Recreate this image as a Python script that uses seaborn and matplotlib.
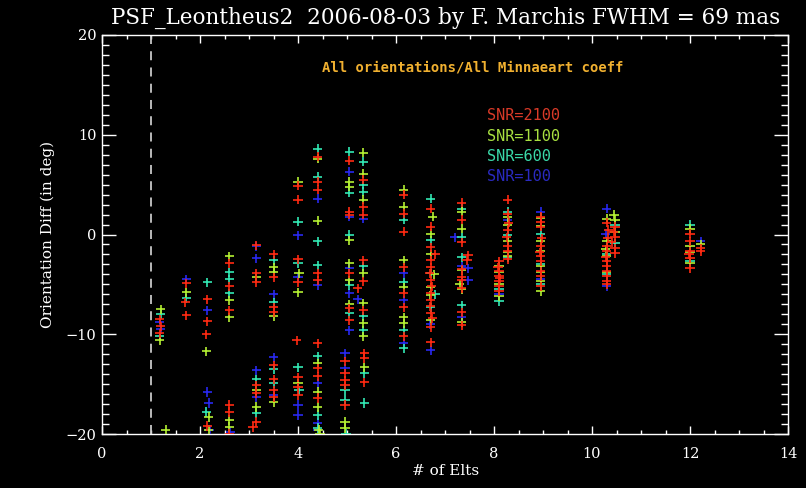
import matplotlib
matplotlib.use("Agg")
import matplotlib.pyplot as plt
from matplotlib.ticker import MultipleLocator
import seaborn as sns
import pandas as pd

# ---------------- data ----------------
snr_labels = ["SNR=2100", "SNR=1100", "SNR=600", "SNR=100"]

x_2100 = [1.18, 1.20, 1.18, 1.72, 1.70, 1.72, 2.15, 2.15, 2.13, 2.15,
          2.60, 2.60, 2.60, 2.60, 2.60, 2.60,
          3.15, 3.15, 3.15, 3.15, 3.15, 3.15, 3.08,
          3.50, 3.50, 3.50, 3.50, 3.50, 3.50, 3.50, 3.50,
          4.00, 4.00, 4.00, 4.00, 3.97, 4.00, 4.00, 4.00,
          4.40, 4.40, 4.40, 4.40, 4.40, 4.40, 4.40, 4.40, 4.40,
          5.05, 5.05, 5.05, 5.05, 5.05, 5.05, 4.96, 4.96, 4.96, 4.96, 4.96,
          5.33, 5.33, 5.33, 5.33, 5.33, 5.33, 5.35, 5.35, 5.35, 5.22,
          6.16, 6.16, 6.16, 6.16, 6.16, 6.16, 6.16,
          6.71, 6.71, 6.71, 6.71, 6.71, 6.71, 6.71, 6.71, 6.71, 6.71, 6.71, 6.80,
          6.69, 6.73, 6.70, 6.74,
          7.34, 7.34, 7.34, 7.34, 7.34, 7.34, 7.34, 7.34, 7.34, 7.47, 7.45,
          8.10, 8.10, 8.10, 8.10, 8.10, 8.10, 8.08, 8.12,
          8.28, 8.28, 8.28, 8.28, 8.28, 8.28, 8.30, 8.26,
          8.95, 8.95, 8.95, 8.95, 8.95, 8.95, 8.95, 8.95, 8.95, 8.97, 8.93,
          10.30, 10.30, 10.30, 10.30, 10.30, 10.30, 10.30, 10.30, 10.30,
          10.32, 10.28, 10.33,
          10.47, 10.47, 10.47, 10.47, 10.40, 10.44,
          12.00, 12.00, 12.00, 12.00, 12.00, 12.22, 12.22, 11.98]
y_2100 = [-8.5, -9.2, -9.9, -4.9, -6.8, -8.1, -6.5, -8.7, -10.0, -19.2,
          -2.9, -5.2, -7.6, -17.1, -17.8, -20.0,
          -1.1, -3.9, -4.8, -15.1, -15.9, -18.8, -19.3,
          -2.0, -4.3, -7.3, -7.8, -13.1, -14.5, -15.6, -16.3,
          4.9, 3.5, -2.5, -4.8, -10.6, -14.3, -15.3, -16.1,
          7.8, 5.3, 4.5, -3.9, -4.6, -10.9, -13.4, -14.2, -16.4,
          7.4, 2.3, 2.0, -3.9, -7.4, -8.6, -12.7, -13.9, -14.6, -15.1, -17.1,
          5.5, 2.8, 2.0, -2.6, -4.7, -7.6, -11.9, -12.4, -14.8, -5.4,
          4.0, 2.1, 0.3, -3.3, -5.9, -7.3, -10.2,
          2.6, 0.8, -1.3, -2.6, -3.3, -4.6, -5.9, -6.6, -7.9, -9.3, -10.8, -2.0,
          -3.9, -5.2, -7.2, -8.4,
          3.2, 1.5, -0.8, -3.5, -4.3, -4.6, -5.4, -7.8, -9.1, -2.1, -2.6,
          -2.7, -3.7, -4.2, -4.7, -5.2, -5.7, -3.3, -4.4,
          3.5, 2.1, 0.5, -1.2, -1.7, -2.5, 1.2, -0.3,
          1.8, 1.3, 0.8, -1.2, -2.2, -2.7, -3.7, -4.2, -5.2, -0.4, -1.8,
          1.2, -1.2, -1.7, -2.7, -3.2, -3.7, -4.2, -4.7, -5.0,
          -0.4, -2.3, 0.5,
          0.8, -0.3, -1.4, -1.9, -0.8, 0.3,
          0.1, -0.7, -1.7, -2.4, -3.4, -1.4, -1.7, -2.0]

x_1100 = [1.20, 1.18, 1.30, 1.72, 2.13, 2.18, 2.18,
          2.60, 2.60, 2.60, 2.60, 2.60,
          3.15, 3.15, 3.15, 3.50, 3.50, 3.50, 3.50,
          4.00, 4.02, 4.00, 4.00,
          4.40, 4.40, 4.40, 4.40, 4.40, 4.42, 4.45,
          5.05, 5.05, 5.05, 5.05, 5.05, 5.05, 4.96, 4.96,
          5.33, 5.33, 5.33, 5.33, 5.33, 5.33, 5.33, 5.35,
          6.16, 6.16, 6.16, 6.16, 6.16, 6.16,
          6.71, 6.71, 6.71, 6.71, 6.78, 6.75, 6.70,
          7.34, 7.34, 7.34, 7.34, 7.34, 7.30,
          8.10, 8.10, 8.10, 8.10,
          8.28, 8.28, 8.28, 8.28, 8.28,
          8.95, 8.95, 8.95, 8.95, 8.95, 8.95, 8.95, 8.95,
          10.30, 10.30, 10.30, 10.30, 10.47, 10.47, 10.45, 10.28,
          12.00, 12.00, 12.00, 12.00, 12.22]
y_1100 = [-7.5, -10.6, -19.6, -5.8, -11.7, -18.3, -19.6,
          -2.2, -6.6, -8.3, -18.6, -19.3,
          -4.3, -15.6, -17.3, -3.3, -3.8, -8.2, -16.8,
          5.3, -3.9, -5.8, -14.9,
          7.6, 1.4, -12.9, -15.8, -17.3, -19.6, -20.0,
          5.3, 4.8, -0.6, -2.9, -4.6, -7.0, -18.8, -19.4,
          8.2, 6.1, 3.5, -3.9, -6.9, -8.9, -10.2, -13.3,
          4.5, 2.8, -2.6, -5.3, -8.3, -8.9,
          0.1, -2.0, -5.3, -8.6, -4.0, 1.8, -6.1,
          2.3, 0.6, -3.6, -5.5, -8.8, -5.0,
          -3.2, -3.8, -5.0, -6.2,
          1.8, 1.0, -0.7, -1.8, -2.2,
          1.7, 0.9, -0.7, -1.7, -3.2, -3.8, -4.7, -5.7,
          1.6, -0.7, -2.2, -3.8, 1.5, 0.3, 2.0, -1.5,
          0.6, -1.2, -1.8, -2.9, -1.0]

x_600 = [1.20, 1.18, 1.72, 2.15, 2.13,
         2.60, 2.60, 2.60, 3.15, 3.15,
         3.50, 3.50, 3.50, 3.50,
         4.00, 4.00, 4.00, 4.02,
         4.40, 4.40, 4.40, 4.40, 4.40, 4.40, 4.40,
         5.05, 5.05, 5.05, 5.05, 5.05, 4.96, 4.96, 4.98,
         5.33, 5.33, 5.33, 5.33, 5.33, 5.33, 5.35, 5.35,
         6.16, 6.16, 6.16, 6.16,
         6.71, 6.71, 6.71, 6.71, 6.80,
         7.34, 7.34, 7.34, 7.34,
         8.10, 8.10, 8.28, 8.28, 8.28,
         8.95, 8.95, 8.95,
         10.30, 10.30, 10.47, 10.47,
         12.00, 12.00]
y_600 = [-8.0, -10.2, -6.4, -4.8, -17.8,
         -3.8, -4.5, -5.9, -14.5, -17.9,
         -2.6, -6.8, -13.5, -14.9,
         1.3, -2.9, -13.3, -15.6,
         8.6, 5.8, -0.7, -3.1, -12.2, -18.1, -19.4,
         8.3, 4.2, 0.0, -5.1, -7.9, -15.6, -16.6, -20.0,
         7.3, 5.0, 4.3, -3.2, -8.2, -9.6, -13.9, -16.9,
         1.5, -4.8, -9.6, -11.4,
         3.6, -0.6, -3.9, -7.3, -6.0,
         2.6, -0.3, -2.3, -7.1,
         -5.5, -6.7, 2.3, 0.0, -2.3,
         0.1, -3.0, -5.0,
         -2.0, -4.0, -0.9, 1.0,
         1.0, -2.7]

x_100 = [1.18, 1.20, 1.72, 2.15, 2.15, 2.18, 2.20, 2.62,
         3.15, 3.15, 3.15, 3.15, 3.50, 3.50, 3.50,
         4.00, 4.00, 4.00, 4.00,
         4.40, 4.40, 4.40, 4.40, 4.40,
         5.05, 5.05, 5.05, 5.05, 5.05, 4.96, 4.96,
         5.33, 5.22,
         6.16, 6.16, 6.16, 6.71, 6.70,
         7.34, 7.34, 7.20, 7.47, 7.47,
         8.10, 8.28, 8.95, 8.95,
         10.30, 10.28, 10.30, 12.22]
y_100 = [-8.8, -9.5, -4.5, -7.6, -15.8, -16.9, -19.6, -19.8,
         -1.2, -2.4, -13.6, -16.3, -6.0, -12.3, -16.1,
         -0.1, -4.3, -17.1, -18.1,
         3.6, -5.1, -14.9, -18.9, -19.6,
         6.3, 1.8, -3.4, -5.9, -9.6, -11.9, -13.4,
         1.6, -6.5,
         -3.9, -6.6, -10.9, -11.6, -9.0,
         -3.2, -8.3, -0.3, -3.4, -4.6,
         -6.0, 1.5, 2.3, -4.5,
         2.6, 0.1, -5.2, -0.7]

marker_colors = {"SNR=2100": "#ff2a12", "SNR=1100": "#b4f032",
                 "SNR=600": "#32e8b4", "SNR=100": "#2828f0"}
text_colors = {"SNR=2100": "#d83a28", "SNR=1100": "#a8e040",
               "SNR=600": "#3ad8a8", "SNR=100": "#2a2ac0"}

title_text = "PSF_Leontheus2  2006-08-03 by F. Marchis FWHM = 69 mas"
annot_text = "All orientations/All Minnaeart coeff"
x_label = "# of Elts"
y_label = "Orientation Diff (in deg)"

# ---------------- table (blue first, red on top) ----------------
frames = []
for lab, xs, ys in [("SNR=100", x_100, y_100), ("SNR=600", x_600, y_600),
                    ("SNR=1100", x_1100, y_1100), ("SNR=2100", x_2100, y_2100)]:
    frames.append(pd.DataFrame({"x": xs, "y": ys, "snr": lab}))
df = pd.concat(frames, ignore_index=True)

# ---------------- figure ----------------
sns.set_style("dark")
plt.rcParams["font.family"] = ["DejaVu Serif"]
W, H = 806, 488
fig = plt.figure(figsize=(W / 100, H / 100), dpi=100, facecolor="black")
ax = fig.add_axes([102 / W, 1 - 434 / H, 686 / W, 399 / H])
ax.set_facecolor("black")

ax.axvline(1.0, color="#c8c8c8", lw=1.3, ls=(0, (5, 4)), zorder=1)

sns.scatterplot(data=df, x="x", y="y", hue="snr", palette=marker_colors,
                marker="+", s=44, linewidth=1.2, legend=False, ax=ax,
                zorder=3, clip_on=True)

ax.set_xlim(0, 14)
ax.set_ylim(-20, 20)
ax.xaxis.set_major_locator(MultipleLocator(2))
ax.xaxis.set_minor_locator(MultipleLocator(0.5))
ax.yaxis.set_major_locator(MultipleLocator(10))
ax.yaxis.set_minor_locator(MultipleLocator(1))
ax.grid(False)
for s in ax.spines.values():
    s.set_color("white")
    s.set_linewidth(1.0)
    s.set_visible(True)
ax.tick_params(axis="x", which="major", direction="in", length=6, width=1,
               color="white", top=True, bottom=True, labelcolor="white",
               labelsize=10.5, pad=9)
ax.tick_params(axis="x", which="minor", direction="in", length=3, width=1,
               color="white", top=True, bottom=True)
ax.tick_params(axis="y", which="major", direction="in", length=10, width=1,
               color="white", left=True, right=True, labelcolor="white",
               labelsize=10.5, pad=4)
ax.tick_params(axis="y", which="minor", direction="in", length=5, width=1,
               color="white", left=True, right=True)
ax.set_xlabel("")
ax.set_ylabel("")

fig.text(446 / W, 1 - 471 / H, x_label, color="white", fontsize=11,
         ha="center", va="center")
fig.text(48 / W, 1 - 234 / H, y_label, color="white", fontsize=11,
         rotation=90, ha="center", va="center")
fig.text(446 / W, 1 - 18 / H, title_text, color="white", fontsize=15.5,
         ha="center", va="center")
fig.text(322 / W, 1 - 67 / H, annot_text, color="#f0b030", fontsize=10,
         family=["DejaVu Sans Mono"], fontweight="bold", ha="left", va="center")
for i, lab in enumerate(snr_labels):
    fig.text(487 / W, 1 - (116 + 20.2 * i) / H, lab, color=text_colors[lab],
             fontsize=11, family=["DejaVu Sans Mono"], ha="left", va="center")

fig.savefig("out.png", dpi=100, facecolor="black")
